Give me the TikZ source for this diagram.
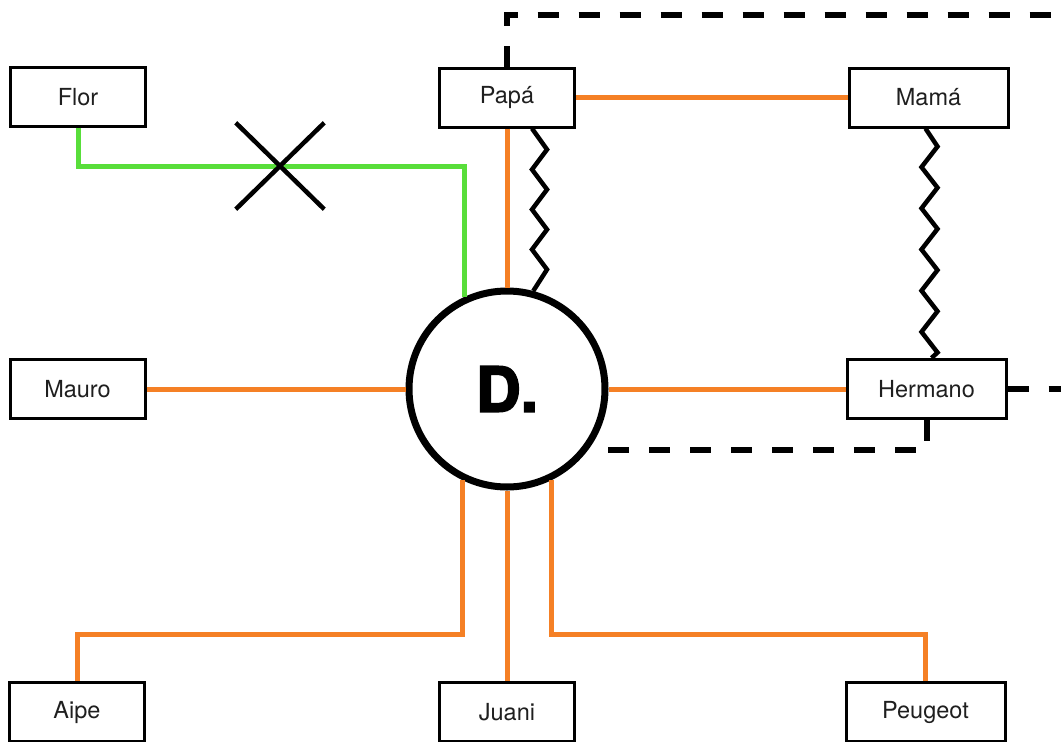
\documentclass[tikz,border=0pt]{standalone}
\usepackage{fontspec}
\setmainfont{TeX Gyre Heros}
\newfontfamily\heavyfont[FakeBold=3]{TeX Gyre Heros}
\usetikzlibrary{shapes.misc}
\definecolor{tieorange}{RGB}{245,128,37}
\definecolor{tiegreen}{RGB}{88,222,58}

\begin{document}
\begin{tikzpicture}[
            x=1pt, y=-1pt, % pixel coordinates, y going down
            person/.style={draw, line width=3pt, fill=white, minimum width=135pt, minimum height=59pt, inner sep=0pt, text=black!88, font=\fontsize{23.5}{27}\selectfont}, % boxes for people
            wideperson/.style={person, minimum width=159pt},
            tie/.style={line width=5pt, tieorange}, % close relation
            broken/.style={line width=5pt, tiegreen}, % broken relation
            distant/.style={line width=6pt, dash pattern=on 21pt off 20pt}, % distant relation
            conflict/.style={line width=4.5pt} % zigzag
            ]
        \useasboundingbox (0,0) rectangle (1061,742);

        % Center
        \node[circle, draw, line width=7pt, fill=white, minimum size=196pt, inner sep=0pt,
              font=\heavyfont\bfseries\fontsize{62}{70}\selectfont] (me) at (507,389) {D.};

        % People
        \node[person] (flor) at (78,97) {Flor};
        \node[person] (papa) at (507,97.5) {Papá};
        \node[wideperson] (mama) at (928.5,97.5) {Mamá};
        \node[person] (mauro) at (77.5,389) {Mauro};
        \node[wideperson] (herm) at (926.5,389) {Hermano};
        \node[person] (aipe) at (77,712) {Aipe};
        \node[person] (juani) at (507,712) {Juani};
        \node[wideperson] (peugeot) at (925.5,712) {Peugeot};

        % Turning points and free ends
        \coordinate (gturn) at (me.115.4 |- 0,166);
        \coordinate (aturn) at (me.-116 |- 0,634);
        \coordinate (pturn) at (me.-64 |- 0,634);
        \coordinate (topR) at (1061,15);
        \coordinate (midR) at (1061,389);

        % Close relations
        \draw[tie] (papa.east) -- (mama.west);
        \draw[tie] (papa.south) -- (me.north);
        \draw[tie] (mauro.east) -- (me.west);
        \draw[tie] (me.east) -- (herm.west);
        \draw[tie] (me.south) -- (juani.north);
        \draw[tie] (me.-116) -- (aturn) -| (aipe.north);
        \draw[tie] (me.-64) -- (pturn) -| (peugeot.north);

        % Broken relation with Flor
        \draw[broken] (flor.south) |- (gturn) -- (me.115.4);
        \node[cross out, draw, line width=4.5pt, minimum width=84pt, minimum height=82pt, inner sep=0pt] (cut) at (gturn -| 280,0) {};

        % Conflicts
        \draw[conflict] ([xshift=25pt]papa.south) -- ++(15,21)
            \foreach \i in {1,2,3} { -- ++(-15,20) -- ++(15,20) } -- (me.75);
        \draw[conflict] ([xshift=-3pt]mama.south) -- ++(12,18)
            \foreach \i in {1,...,5} { -- ++(-16,20.6) -- ++(16,20.6) } -- ([xshift=5pt]herm.north);

        % Distant relations
        \draw[distant] (papa.north) |- (topR);
        \draw[distant] (herm.east) -- (midR);
        \draw[distant] (herm.south) |- (me.-37.7);

\end{tikzpicture}
\end{document}
